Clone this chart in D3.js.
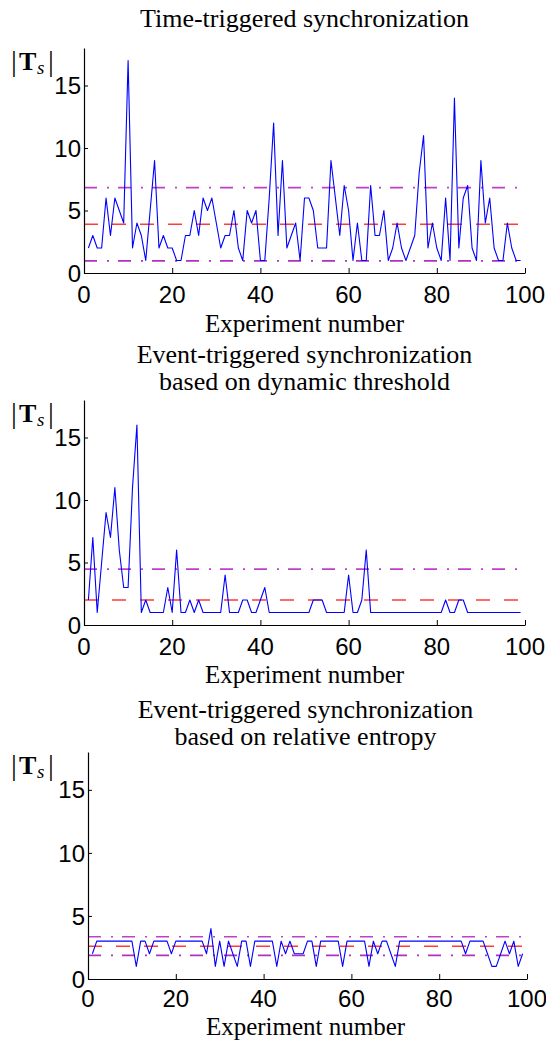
<!DOCTYPE html>
<html><head><meta charset="utf-8">
<script src="https://cdn.jsdelivr.net/npm/d3@7"></script>
<style>body{margin:0;background:#fff}</style></head>
<body>
<script>
// ---- data ----
const experiments = d3.range(1, 100); // experiment numbers 1..99
const xTicks = [0, 20, 40, 60, 80, 100];
const yTicks = [0, 5, 10, 15];

const timeTriggered = [
  2,3,2,2,6,3,6,5,4,17,
  2,4,3,1,5,9,2,3,2,2,
  1,1,3,3,5,3,6,5,6,4,
  2,3,3,5,2,1,5,4,5,1,
  1,6,12,3,9,2,3,4,1,6,
  6,5,2,2,2,9,6,3,7,5,
  1,4,1,1,7,3,3,5,1,2,
  4,2,1,2,3,8,11,2,4,2,
  1,6,1,14,2,6,7,2,1,9,
  4,6,2,1,1,4,2,1,1];

const eventDynamic = [
  2,7,1,5,9,7,11,6,3,3,
  11,16,1,2,1,1,1,1,3,1,
  6,1,1,2,1,2,1,1,1,1,
  1,4,1,1,1,2,2,1,1,2,
  3,1,1,1,1,1,1,1,1,1,
  1,2,2,2,1,1,1,1,1,4,
  1,1,2,6,1,1,1,1,1,1,
  1,1,1,1,1,1,1,1,1,1,
  1,2,1,1,2,2,1,1,1,1,
  1,1,1,1,1,1,1,1,1];

const eventEntropy = [
  2,3,3,3,3,3,3,3,3,3,
  1,3,3,2,3,3,3,3,2,3,
  3,3,3,3,3,3,2,4,1,3,
  1,3,2,1,3,3,1,3,3,3,
  3,3,1,3,2,3,2,2,2,3,
  3,1,3,3,3,3,3,1,3,3,
  3,3,3,1,3,2,3,3,2,1,
  3,3,3,3,3,3,3,3,3,3,
  3,3,3,3,3,2,3,3,3,3,
  2,1,1,2,3,2,3,1,2];

const meanLevels  = [3.9, 2.0, 2.6];
const upperLevels = [6.83, 4.47, 3.35];
const lowerLevels = [0.97, -0.47, 1.87];

const titles = [
  ["Time-triggered synchronization"],
  ["Event-triggered synchronization", "based on dynamic threshold"],
  ["Event-triggered synchronization", "based on relative entropy"]
];
const seriesList = [timeTriggered, eventDynamic, eventEntropy];

// ---- layout ----
const W = 546, H = 1042;
const panels = [
  {left:84, right:525, top:48,  bottom:273, titleY:[27],       ylabY:70,  tickY:303,  xlabY:332},
  {left:84, right:525, top:400, bottom:625, titleY:[363,390],  ylabY:422, tickY:655,  xlabY:683},
  {left:88, right:527, top:752, bottom:979, titleY:[718,745],  ylabY:774, tickY:1007, xlabY:1035}
];

const svg = d3.select("body").append("svg")
  .attr("width", W).attr("height", H)
  .style("background", "#fff");

const serif = "'Liberation Serif','Times New Roman',serif";
const sans = "'Liberation Sans',Arial,Helvetica,sans-serif";

panels.forEach((p, i) => {
  const g = svg.append("g");
  const x = d3.scaleLinear().domain([0, 100]).range([p.left, p.right]);
  const y = d3.scaleLinear().domain([0, 18]).range([p.bottom, p.top]);
  const cx = (p.left + p.right) / 2 + (i === 2 ? -2 : 0);

  // title
  titles[i].forEach((t, k) => {
    g.append("text").attr("x", cx).attr("y", p.titleY[k])
      .attr("text-anchor", "middle")
      .style("font-family", serif).style("font-size", "26px")
      .text(t);
  });

  // y label |T_s|
  const yl = g.append("text").attr("y", p.ylabY)
    .style("font-family", serif).style("font-size", "26px");
  yl.append("tspan").attr("x", 11).style("font-size", "29px").attr("dy", 1).text("|");
  yl.append("tspan").attr("x", 19).attr("dy", -1).style("font-weight", "bold").text("T");
  yl.append("tspan").attr("x", 37).style("font-style", "italic").style("font-size", "19px")
    .attr("dy", 4).text("s");
  yl.append("tspan").attr("x", 48).style("font-size", "29px").attr("dy", -3).text("|");

  // reference lines
  const hline = (lvl, color, dash) => {
    if (lvl < 0) return;
    g.append("line")
      .attr("x1", x(0)).attr("x2", x(99))
      .attr("y1", y(lvl)).attr("y2", y(lvl))
      .attr("stroke", color).attr("stroke-width", 1.6)
      .attr("stroke-dasharray", dash);
  };
  hline(upperLevels[i], "#c040cc", "13,10,2,9");
  hline(lowerLevels[i], "#b030c0", "13,10,2,9");
  hline(meanLevels[i], "#ff3b3b", "14,14");

  // series
  const line = d3.line().x((d, j) => x(experiments[j])).y(d => y(d));
  g.append("path").datum(seriesList[i])
    .attr("d", line).attr("fill", "none")
    .attr("stroke", "#0000ff").attr("stroke-width", 1.1)
    .attr("stroke-linejoin", "round");

  // axes
  const xAxis = d3.axisBottom(x).tickValues(xTicks).tickSizeInner(-5).tickSizeOuter(0).tickPadding(0);
  const gx = g.append("g").attr("transform", `translate(0,${p.bottom})`).call(xAxis);
  gx.selectAll("text").remove();
  const yAxis = d3.axisLeft(y).tickValues(yTicks).tickSizeInner(-4).tickSizeOuter(0);
  const gy = g.append("g").attr("transform", `translate(${p.left},0)`).call(yAxis);
  gy.selectAll("text").remove();
  [gx, gy].forEach(a => {
    a.select(".domain").attr("stroke", "#000").attr("stroke-width", 1.2);
    a.selectAll(".tick line").attr("stroke", "#000").attr("stroke-width", 1);
  });

  // tick labels
  xTicks.forEach(v => {
    g.append("text").attr("x", x(v)).attr("y", p.tickY)
      .attr("text-anchor", "middle")
      .style("font-family", sans).style("font-size", "24px")
      .text(v);
  });
  yTicks.forEach(v => {
    g.append("text").attr("x", p.left - 3).attr("y", y(v))
      .attr("dy", "0.36em").attr("text-anchor", "end")
      .style("font-family", sans).style("font-size", "24px")
      .text(v);
  });

  // x label
  g.append("text").attr("x", cx).attr("y", p.xlabY)
    .attr("text-anchor", "middle")
    .style("font-family", serif).style("font-size", "25px")
    .text("Experiment number");
});
</script>
</body></html>
